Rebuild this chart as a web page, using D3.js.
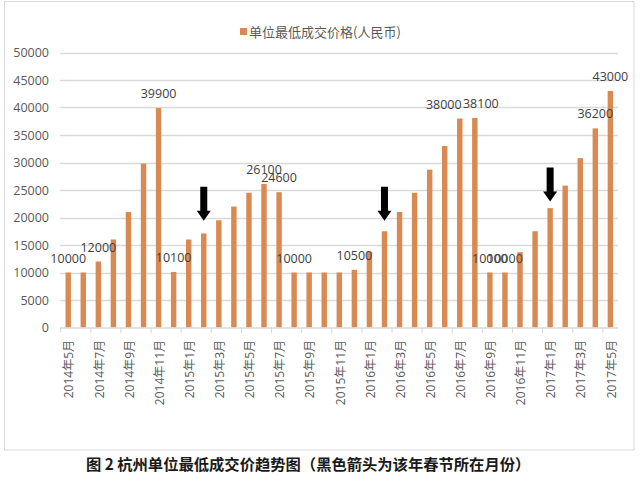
<!DOCTYPE html>
<html>
<head>
<meta charset="utf-8">
<script src="https://cdn.jsdelivr.net/npm/d3@7"></script>
<style>
  html, body { margin: 0; padding: 0; background: #fff; }
  svg { display: block; }
</style>
</head>
<body>
<svg id="chart" width="640" height="483"></svg>
<script>
// ---------- data ----------
const months = [
  "2014年5月","2014年6月","2014年7月","2014年8月","2014年9月","2014年10月","2014年11月","2014年12月",
  "2015年1月","2015年2月","2015年3月","2015年4月","2015年5月","2015年6月","2015年7月","2015年8月",
  "2015年9月","2015年10月","2015年11月","2015年12月","2016年1月","2016年2月","2016年3月","2016年4月",
  "2016年5月","2016年6月","2016年7月","2016年8月","2016年9月","2016年10月","2016年11月","2016年12月",
  "2017年1月","2017年2月","2017年3月","2017年4月","2017年5月"
];
const prices = [
  10000, 10000, 12000, 16000, 21000, 29800, 39900, 10100,
  16000, 17100, 19500, 22000, 24500, 26100, 24600, 10000,
  10000, 10000, 10000, 10500, 13800, 17500, 21000, 24500,
  28700, 33000, 38000, 38100, 10000, 10000, 13700, 17500,
  21700, 25800, 30800, 36200, 43000
];
// months whose bars carry a value label
const labelledMonths = ["2014年5月","2014年7月","2014年11月","2014年12月","2015年6月","2015年7月",
  "2015年8月","2015年12月","2016年7月","2016年8月","2016年9月","2016年10月","2017年4月","2017年5月"];
// Spring Festival months (black arrows), arrow tip value
const springMonths = ["2015年2月","2016年2月","2017年1月"];
const arrowTips = [19400, 19400, 22900];
const yTicks = [0,5000,10000,15000,20000,25000,30000,35000,40000,45000,50000];
const seriesName = "单位最低成交价格(人民币)";
const caption = "图 2 杭州单位最低成交价趋势图（黑色箭头为该年春节所在月份）";

// ---------- layout / style ----------
const barColor = "#D98A52";
const gridColor = "#D9D9D9";
const textColor = "#595959";
const labelNudge = { "2016年7月": -16, "2016年8月": 6 };
const font = "'Open Sans', 'Noto Sans CJK SC', sans-serif";

const svg = d3.select("#chart");

// outer border
svg.append("rect").attr("x", 4.5).attr("y", 1.5).attr("width", 629.5).attr("height", 448.5)
  .attr("fill", "none").attr("stroke", gridColor).attr("stroke-width", 1);

const x = d3.scaleBand().domain(months).range([60.7, 617.9]).paddingInner(0.64).paddingOuter(0.32);
const y = d3.scaleLinear().domain([0, 50000]).range([327.5, 52.5]);

// gridlines
svg.append("g").selectAll("line").data(yTicks.slice(1)).join("line")
  .attr("x1", 60).attr("x2", 618)
  .attr("y1", d => Math.round(y(d)) + 0.5).attr("y2", d => Math.round(y(d)) + 0.5)
  .attr("stroke", gridColor).attr("stroke-width", 1.3);

// y axis labels
const yAxis = d3.axisLeft(y).tickValues(yTicks).tickSize(0).tickPadding(0).tickFormat(d3.format("d"));
const yg = svg.append("g").attr("transform", "translate(49,0)").call(yAxis);
yg.select(".domain").remove();
yg.selectAll("text").attr("fill", textColor).style("font-family", font).style("font-size", "12.5px");

// bars
svg.append("g").selectAll("rect").data(months).join("rect")
  .attr("x", d => x(d))
  .attr("width", x.bandwidth())
  .attr("y", (d, i) => y(prices[i]))
  .attr("height", (d, i) => y(0) - y(prices[i]))
  .attr("fill", barColor);

// x axis line and ticks
const step = x.step();
const x0 = 60.7;
svg.append("line").attr("x1", 60).attr("x2", 618).attr("y1", 328).attr("y2", 328)
  .attr("stroke", gridColor).attr("stroke-width", 1.3);
const tickIdx = d3.range(0, months.length + 1, 2);
svg.append("g").selectAll("line").data(tickIdx).join("line")
  .attr("x1", i => x0 + i * step).attr("x2", i => x0 + i * step)
  .attr("y1", 328).attr("y2", 333)
  .attr("stroke", gridColor).attr("stroke-width", 1);

// x labels (every other month)
svg.append("g").selectAll("text").data(months.filter((d, i) => i % 2 === 0)).join("text")
  .attr("transform", d => `translate(${x(d) + x.bandwidth() / 2 + 1},340) rotate(-90)`)
  .attr("text-anchor", "end").attr("dy", "0.35em")
  .attr("fill", textColor).style("font-family", font).style("font-size", "12px")
  .text(d => d);

// value labels
svg.append("g").selectAll("text").data(labelledMonths).join("text")
  .attr("x", d => x(d) + x.bandwidth() / 2 + (labelNudge[d] || 0))
  .attr("y", d => y(prices[months.indexOf(d)]) - 10)
  .attr("text-anchor", "middle")
  .attr("fill", "#404040").style("font-family", font).style("font-size", "12.5px")
  .text(d => prices[months.indexOf(d)]);

// arrows
const arrowG = svg.append("g");
springMonths.forEach((m, k) => {
  const cx = x(m) + x.bandwidth() / 2;
  const tip = y(arrowTips[k]);
  const len = 34, headH = 10, shaftW = 7, headW = 14;
  const p = [
    [cx - shaftW / 2, tip - len], [cx + shaftW / 2, tip - len],
    [cx + shaftW / 2, tip - headH], [cx + headW / 2, tip - headH],
    [cx, tip], [cx - headW / 2, tip - headH], [cx - shaftW / 2, tip - headH]
  ];
  arrowG.append("path").attr("d", d3.line()(p) + "Z").attr("fill", "#000");
});

// legend
const lg = svg.append("g");
lg.append("rect").attr("x", 240).attr("y", 28).attr("width", 7).attr("height", 7).attr("fill", barColor);
lg.append("text").attr("x", 249).attr("y", 36.5).attr("fill", textColor)
  .style("font-family", "'Noto Sans CJK SC', sans-serif").style("font-size", "13px").text(seriesName);

// caption
svg.append("text").attr("x", 86).attr("y", 470).attr("fill", "#1a1a1a")
  .style("font-family", "'Noto Sans CJK SC', sans-serif").style("font-size", "15.3px").style("font-weight", "bold")
  .text(caption);
</script>
</body>
</html>
